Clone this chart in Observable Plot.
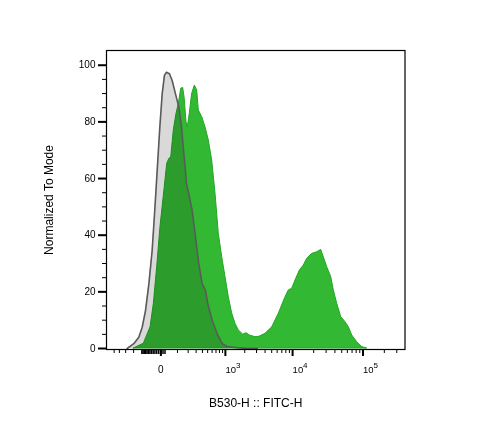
<!DOCTYPE html>
<html>
<head>
<meta charset="utf-8">
<script src="https://cdn.jsdelivr.net/npm/d3@7"></script>
<script src="https://cdn.jsdelivr.net/npm/@observablehq/plot@0.6"></script>
<style>
  html, body { margin: 0; padding: 0; background: white; }
</style>
</head>
<body>
<div id="chart"></div>
<script>
// Tick values and labels
const xMajorTicks = [0, 1e3, 1e4, 1e5];
const xPowerTicks = [1e3, 1e4, 1e5];
const xPowerBase = "10";
const xPowerExponents = ["3", "4", "5"];
const xZeroLabel = "0";
const xMinorTicks = [-500, -400, -300, -200,
  100, 200, 300, 400, 500, 600, 700, 800, 900,
  2e3, 3e3, 4e3, 5e3, 6e3, 7e3, 8e3, 9e3,
  2e4, 3e4, 4e4, 5e4, 6e4, 7e4, 8e4, 9e4,
  2e5, 3e5];
const xDenseTicks = [-120, -110, -100, -90, -80, -70, -60, -50, -40, -30, -20, -10, 0, 10, 20];
const yMajorTicks = [0, 20, 40, 60, 80, 100];
const yMinorTicks = [5, 10, 15, 25, 30, 35, 45, 50, 55, 65, 70, 75, 85, 90, 95];

// Control (gray) histogram: B530-H :: FITC-H intensity vs normalized count
const grayX = [-279, -198, -147, -117, -91, -67, -46, -31, -18, -5, 6, 17, 28, 45, 62, 85, 111, 134, 149, 165, 182, 207, 247, 291, 340, 396, 457, 503, 602, 734, 888, 1069, 1533, 2178, 3069];
const grayY = [0, 1.7, 4.0, 7.5, 13.4, 22.8, 34.6, 48.7, 62.8, 78.1, 89.9, 96.4, 97.5, 97.0, 94.6, 89.9, 85.2, 78.1, 71.1, 65.2, 58.1, 54.6, 48.7, 39.3, 29.9, 22.8, 20.5, 15.8, 9.9, 5.2, 1.7, 0.7, 0.25, 0, 0];

// Stained (green) histogram
const greenX = [-198, -104, -56, -36, -18, -2, 17, 32, 45, 56, 73, 93, 111, 131, 149, 162, 182, 196, 218, 247, 282, 316, 340, 396, 457, 525, 602, 687, 780, 888, 1004, 1134, 1283, 1444, 1623, 1894, 2125, 2381, 2894, 3350, 4063, 5088, 6334, 7910, 8820, 9870, 11004, 12684, 14462, 16170, 19040, 22442, 25564, 27846, 31108, 35462, 38612, 43106, 49112, 56518, 62958, 70308, 82740, 97384, 114632];
const greenY = [0, 1.7, 7.5, 15.8, 28.7, 42.8, 55.8, 65.2, 67.0, 67.5, 77.0, 82.9, 86.4, 91.7, 92.0, 88.7, 79.9, 78.1, 82.9, 89.9, 92.8, 91.1, 84.0, 81.7, 78.1, 73.4, 66.4, 54.6, 40.5, 32.2, 25.2, 18.1, 12.3, 8.7, 6.4, 4.9, 5.4, 4.6, 4.0, 4.2, 5.2, 7.5, 12.3, 18.1, 20.5, 21.1, 24.0, 27.5, 29.3, 31.7, 33.4, 34.0, 34.8, 32.2, 28.7, 25.2, 20.5, 15.8, 11.1, 9.3, 7.5, 4.6, 2.2, 0.5, 0];

const xTitle = "B530-H :: FITC-H";
const yTitle = "Normalized To Mode";

const gray = grayX.map((x, i) => ({x, y: grayY[i]}));
const green = greenX.map((x, i) => ({x, y: greenY[i]}));

const chart = Plot.plot({
  width: 478,
  height: 448,
  marginLeft: 106,
  marginRight: 73.5,
  marginTop: 50,
  marginBottom: 99,
  style: {fontFamily: "'Liberation Sans', Arial, sans-serif", fontSize: "10px", color: "black", background: "white"},
  x: {type: "symlog", constant: 140, domain: [-681, 392000]},
  y: {domain: [-0.35, 105.2]},
  marks: [
    Plot.areaY(green, {x: "x", y: "y", fill: "#33b833", stroke: "#22a822", strokeWidth: 1, curve: "linear"}),
    Plot.areaY(gray, {x: "x", y: "y", fill: "#d9d9d9", mixBlendMode: "multiply", curve: "linear"}),
    Plot.lineY(gray, {x: "x", y: "y", stroke: "#5a5a5a", strokeWidth: 1.6, curve: "linear"}),
    Plot.frame({stroke: "black", strokeWidth: 1.2}),
    Plot.axisX({ticks: xMajorTicks, tickFormat: () => "", tickSize: 7, strokeWidth: 2, label: null}),
    Plot.axisX({ticks: xMinorTicks, tickFormat: () => "", tickSize: 4, strokeWidth: 1, label: null}),
    Plot.axisX({ticks: xDenseTicks, tickFormat: () => "", tickSize: 5, strokeWidth: 1.5, label: null}),
    Plot.text([0], {x: d => d, text: () => xZeroLabel, frameAnchor: "bottom", dy: 23, fontSize: 10, fill: "black"}),
    Plot.text(xPowerTicks, {x: d => d, text: () => xPowerBase, frameAnchor: "bottom", dy: 23, textAnchor: "start", fontSize: 9.5, fill: "black"}),
    Plot.text(xPowerTicks, {x: d => d, text: (d, i) => xPowerExponents[i], frameAnchor: "bottom", dy: 18, dx: 10.5, textAnchor: "start", fontSize: 8, fill: "black"}),
    Plot.axisY({ticks: yMajorTicks, tickSize: 8, tickPadding: 3, strokeWidth: 2, label: null, fontSize: 10}),
    Plot.axisY({ticks: yMinorTicks, tickFormat: () => "", tickSize: 4, strokeWidth: 1, label: null}),
    Plot.text([yTitle], {frameAnchor: "left", dx: -57, rotate: -90, textAnchor: "middle", fontSize: 12, fill: "black"}),
    Plot.text([xTitle], {frameAnchor: "bottom", dy: 57, textAnchor: "middle", fontSize: 12, fill: "black"})
  ]
});
document.getElementById("chart").appendChild(chart);
</script>
</body>
</html>
